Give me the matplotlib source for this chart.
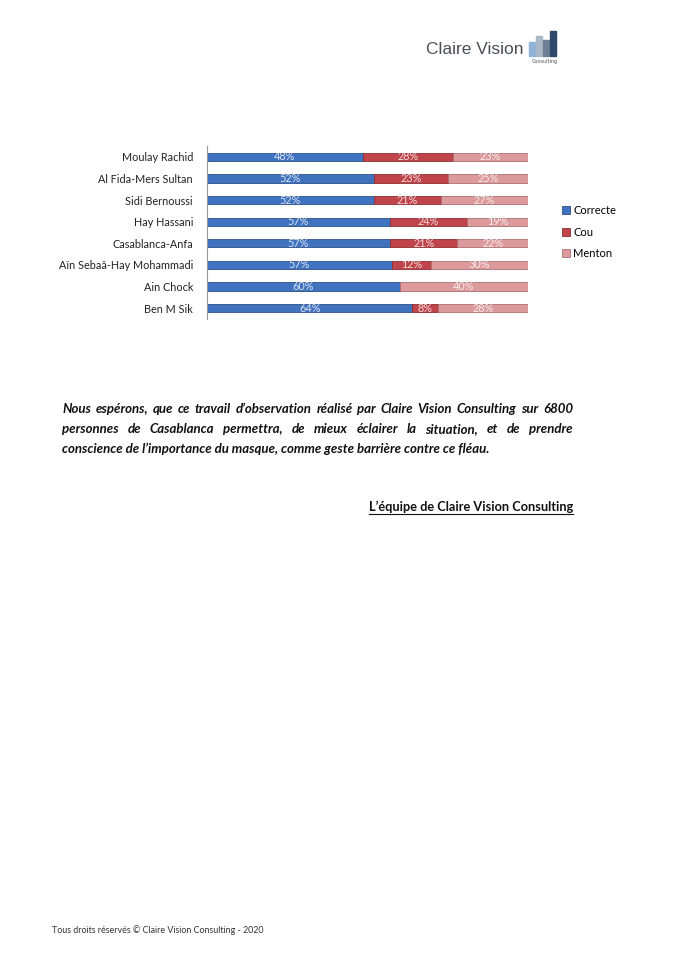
import numpy as np
import matplotlib
matplotlib.use('Agg')
import matplotlib.pyplot as plt
from matplotlib.patches import Rectangle

# data
districts = ['Moulay Rachid', 'Al Fida-Mers Sultan', 'Sidi Bernoussi', 'Hay Hassani',
             'Casablanca-Anfa', 'Aïn Sebaâ-Hay Mohammadi', 'Ain Chock', 'Ben M Sik']
correcte = [48, 52, 52, 57, 57, 57, 60, 64]
cou = [28, 23, 21, 24, 21, 12, 0, 8]
menton = [23, 25, 27, 19, 22, 30, 40, 28]
series_names = ['Correcte', 'Cou', 'Menton']
colors = ['#3f72bf', '#c0454a', '#dc9a9c']
edge_colors = ['#2b4f88', '#8e2f33', '#a9706f']

para_lines = [
    "Nous espérons, que ce travail d\u2019observation réalisé par Claire Vision Consulting sur 6800",
    "personnes de Casablanca permettra, de mieux éclairer la situation, et de prendre",
    "conscience de l\u2019importance du masque, comme geste barrière contre ce fléau.",
]
signature = "L\u2019équipe de Claire Vision Consulting"
footer = "Tous droits réservés \u00a9 Claire Vision Consulting - 2020"

W, H = 674, 960
fig = plt.figure(figsize=(W / 100, H / 100), dpi=100)
fig.patch.set_facecolor('white')

def fx(px):
    return px / W

def fy(py):
    return 1 - py / H

# %% 100% stacked bar chart
ax = fig.add_axes([fx(207), fy(319), fx(321), (319 - 146) / H])
y = np.arange(len(districts))
totals = np.array(correcte) + np.array(cou) + np.array(menton)
left = np.zeros(len(districts))
for vals, name, c, ec in zip([correcte, cou, menton], series_names, colors, edge_colors):
    vals = np.array(vals, dtype=float)
    widths = vals / totals * 100
    ax.barh(y, widths, left=left, height=0.38, color=c, edgecolor=ec, linewidth=0.6, label=name)
    for yi, l, w, v in zip(y, left, widths, vals):
        if v > 0:
            ax.text(l + w / 2, yi, f'{int(v)}%', ha='center', va='center',
                    fontsize=7.8, color='white', alpha=0.8, family='Lato')
    left = left + widths

ax.set_xlim(0, 100)
ax.set_ylim(len(districts) - 0.5, -0.5)
ax.set_yticks(y)
ax.set_yticklabels(districts, fontsize=7.8, family='Lato', color='#222222')
ax.tick_params(axis='y', length=0, pad=10)
ax.set_xticks([])
for s in ['top', 'right', 'bottom']:
    ax.spines[s].set_visible(False)
ax.spines['left'].set_color('#999999')
ax.spines['left'].set_linewidth(0.8)

leg = fig.legend(loc='upper left', bbox_to_anchor=(fx(552), fy(195)), frameon=False,
                 prop={'family': 'Lato', 'size': 8}, handlelength=0.7, handleheight=0.7,
                 handletextpad=0.3, labelspacing=0.95)

# %% logo
fig.text(fx(426), fy(49), 'Claire Vision', fontsize=12.5, color='#4a4f57', va='center',
         family='Liberation Sans')
logo_bars = [(529, 42, '#8fb3d9'), (536, 36, '#a9b7c6'), (543, 40, '#6d7f93'), (550, 31, '#2f4a6b')]
for bx, top, c in logo_bars:
    fig.patches.append(Rectangle((fx(bx), fy(56)), fx(6), (56 - top) / H, color=c,
                                 transform=fig.transFigure, figure=fig))
fig.text(fx(545), fy(61), 'Consulting', fontsize=3.5, color='#4a4f57', ha='center', va='center')

# %% justified paragraph
renderer = fig.canvas.get_renderer()
x0, x1 = 62, 573
ys = [409, 429, 449]
fp = dict(fontsize=9.5, fontweight='bold', fontstyle='italic', family='Lato', color='#111111')
for i, (line, yy) in enumerate(zip(para_lines, ys)):
    words = line.split(' ')
    if i == len(para_lines) - 1:
        fig.text(fx(x0), fy(yy), line, va='center', **fp)
        continue
    objs = [fig.text(0, fy(yy), w, va='center', **fp) for w in words]
    widths = [o.get_window_extent(renderer).width for o in objs]
    gap = (x1 - x0 - sum(widths)) / (len(words) - 1)
    xpos = x0
    for o, wd in zip(objs, widths):
        o.set_x(fx(xpos))
        xpos += wd + gap

sig = fig.text(fx(573), fy(507), signature, ha='right', va='center', fontsize=9.2,
               fontweight='bold', family='Lato', color='#111111')
sw = sig.get_window_extent(renderer).width
fig.add_artist(plt.Line2D([fx(573 - sw), fx(573)], [fy(514), fy(514)], color='#111111', linewidth=0.8))

fig.text(fx(52), fy(930), footer, va='center', fontsize=6.4, family='Lato', color='#333333')

fig.savefig('out.png', dpi=100, facecolor='white')
